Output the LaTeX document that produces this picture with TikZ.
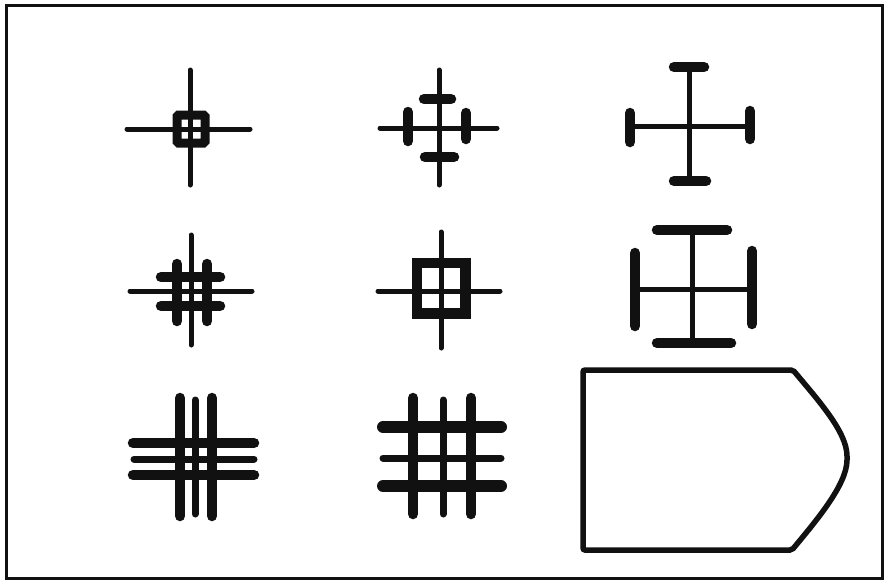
\documentclass[tikz,border=0pt]{standalone}
\usepackage{tikz}
\definecolor{inkblack}{HTML}{111111}

\begin{document}
\begin{tikzpicture}[
  x=1pt, y=-1pt,
  stem/.style={inkblack, line width=5pt, line cap=round},
  bar/.style={inkblack, line width=10.5pt, line cap=round},
  heavybar/.style={inkblack, line width=12pt, line cap=round},
  thinbar/.style={inkblack, line width=7pt, line cap=round},
  frame/.style={inkblack, line width=3pt},
  outline/.style={inkblack, line width=5.5pt, rounded corners=2pt}
]
\useasboundingbox (0,0) rectangle (884,582);
\draw[frame] (6,5) rectangle (882,578);
% row 1
\draw[stem] (190,70) -- (190,185);
\draw[stem] (127,129) -- (250,129);
\draw[inkblack, line width=9pt, rounded corners=1.5pt] (177,115) rectangle (205,143);
\draw[stem] (439,70) -- (439,185);
\draw[stem] (380,128) -- (497,128);
\draw[bar] (424,99) -- (451,99);
\draw[bar] (425,157) -- (454,157);
\draw[bar] (408,112) -- (408,141);
\draw[bar] (466,113) -- (466,139);
\draw[stem] (689,67) -- (689,182);
\draw[stem] (630,126) -- (750,126);
\draw[bar] (674,67) -- (704,67);
\draw[bar] (674,181) -- (706,181);
\draw[bar] (630,113) -- (630,142);
\draw[bar] (750,111) -- (750,139);
% row 2
\draw[stem] (191,235) -- (191,345);
\draw[stem] (130,291) -- (252,291);
\foreach \x in {177,207} \draw[bar] (\x,264) -- (\x,321);
\foreach \y in {277,306} \draw[bar] (161,\y) -- (220,\y);
\draw[stem] (441,232) -- (441,348);
\draw[stem] (378,291) -- (500,291);
\draw[inkblack, line width=10.5pt] (417,263) rectangle (465.5,313.5);
\draw[stem] (692,230) -- (692,343);
\draw[stem] (635,289) -- (752,289);
\draw[bar] (657,230) -- (727,230);
\draw[bar] (657,343) -- (731,343);
\draw[bar] (635,253) -- (635,326);
\draw[bar] (752,251) -- (752,324);
% row 3
\foreach \x in {180,212} \draw[bar] (\x,398) -- (\x,516);
\draw[thinbar] (195,400) -- (195,514);
\foreach \y in {443,475} \draw[bar] (133,\y) -- (254,\y);
\draw[thinbar] (134,459) -- (254,459);
\foreach \x in {413,471} \draw[bar] (\x,398) -- (\x,514);
\draw[thinbar] (443,400) -- (443,514);
\foreach \y in {427,486} \draw[heavybar] (383,\y) -- (501,\y);
\draw[thinbar] (383,458) -- (501,458);
\draw[outline] (583,370) -- (793,370) .. controls (818,400) and (847,432) .. (847,458)
  .. controls (847,485) and (815,522) .. (792,550) -- (583,550) -- cycle;
\end{tikzpicture}
\end{document}
